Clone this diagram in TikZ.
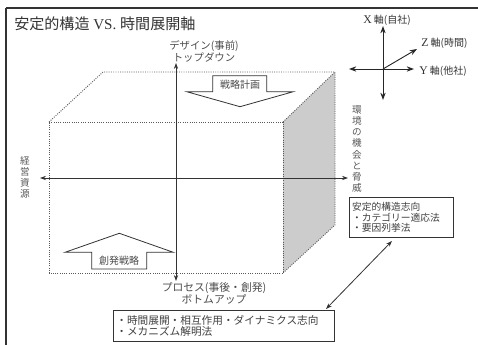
\documentclass[tikz,border=0pt]{standalone}
\usepackage{fontspec}
\setmainfont{Liberation Serif}
\newfontfamily\cjk{Noto Sans CJK JP}
\usetikzlibrary{arrows.meta}
\newcommand{\axletter}[1]{{\rmfamily\fontsize{8.8}{9}\selectfont #1}}
\begin{document}
\begin{tikzpicture}[x=0.75pt,y=-0.75pt,
  axisline/.style={line width=0.6pt, draw=black!80, {Stealth[length=4.5pt,width=3.2pt]}-{Stealth[length=4.5pt,width=3.2pt]}},
  legendline/.style={line width=0.7pt, draw=black!85, {Stealth[length=5.5pt,width=4pt]}-{Stealth[length=5.5pt,width=4pt]}},
  cubeedge/.style={densely dotted, line width=0.7pt, draw=black!65},
  bigarrow/.style={draw=black!80, line width=0.6pt, fill=white},
  lbl/.style={font=\cjk\fontsize{7.5}{8.8}\selectfont, text=black!70, inner sep=0pt, align=center},
  vlbl/.style={font=\cjk\fontsize{7.2}{8.2}\selectfont, text=black!65, inner sep=0pt, align=center},
  boxnode/.style={draw=black!80, line width=0.7pt, fill=white, align=left, anchor=north west, text=black!75},
]
\useasboundingbox (0,0) rectangle (478,345);
% frame
\draw[line width=1.1pt, black!80] (478,8) -- (6,8);
\draw[line width=1.5pt, black!80] (6,8) -- (6,345);
% title
\node[anchor=west, inner sep=0pt, text=black!80, font=\fontsize{11.3}{13}\selectfont] (title) at (14,24) {{\cjk 安定的構造} VS. {\cjk 時間展開軸}};
% cube
\coordinate (A) at (49,122);
\coordinate (B) at (283,122);
\coordinate (C) at (283,273);
\coordinate (D) at (49,273);
\coordinate (E) at (103,72);
\coordinate (F) at (335,72);
\coordinate (G) at (335,225);
\fill[black!20] (B) -- (F) -- (G) -- (C) -- cycle;
\draw[cubeedge] (A) -- (B) -- (C) -- (D) -- cycle;
\draw[cubeedge] (A) -- (E) -- (F) -- (G) -- (C);
\draw[cubeedge] (B) -- (F);
% big arrows
\draw[bigarrow] (212.7,75.7) -- (266.7,75.7) -- (266.7,91.7) -- (293.3,91.7) -- (240,106.7) -- (186.7,91.7) -- (212.7,91.7) -- cycle;
\node[lbl] (plan) at (240,85) {戦略計画};
\draw[bigarrow] (119.3,233.3) -- (173.3,252.3) -- (146.7,252.3) -- (146.7,269) -- (91.7,269) -- (91.7,252.3) -- (65,252.3) -- cycle;
\node[lbl] (emerg) at (119,261) {創発戦略};
% axes
\coordinate (vt) at (176,63);
\coordinate (vb) at (176,281);
\coordinate (hl) at (40,178);
\coordinate (hr) at (348,178);
\draw[axisline] (vt) -- (vb);
\draw[axisline] (hl) -- (hr);
\node[lbl, font=\cjk\fontsize{7.8}{9}\selectfont] (top) at (204,51) {デザイン(事前)\\トップダウン};
\node[lbl, font=\cjk\fontsize{8.1}{9}\selectfont] (bottom) at (214,293) {プロセス(事後・創発)\\ボトムアップ};
\node[vlbl] (left) at (25,177) {経\\営\\資\\源};
\node[vlbl, font=\cjk\fontsize{7.2}{8.3}\selectfont] (right) at (357,149) {環\\境\\の\\機\\会\\と\\脅\\威};
% legend axes
\coordinate (o) at (383,69);
\coordinate (xt) at (383,26);
\coordinate (xb) at (383,100);
\coordinate (yl) at (349,69);
\coordinate (yr) at (414,69);
\coordinate (zt) at (417,49);
\draw[legendline] (xt) -- (xb);
\draw[legendline] (yl) -- (yr);
\draw[line width=0.7pt, draw=black!85, -{Stealth[length=5.5pt,width=4pt]}] (o) -- (zt);
\node[lbl, text=black!80] (xl) at (387,20) {\axletter{X} 軸(自社)};
\node[lbl, text=black!80, anchor=west] (zl) at (421,43) {\axletter{Z} 軸(時間)};
\node[lbl, text=black!80, anchor=west] (yl2) at (419,71) {\axletter{Y} 軸(他社)};
% boxes
\node[boxnode, text width=74pt, minimum height=30pt, inner sep=2pt, font=\cjk\fontsize{7.3}{7.9}\selectfont] (b1) at (349,197) {安定的構造志向\\・カテゴリー適応法\\・要因列挙法};
\node[boxnode, text width=161pt, minimum height=23.25pt, inner sep=2.2pt, font=\cjk\fontsize{8}{7.6}\selectfont] (b2) at (113,310) {・時間展開・相互作用・ダイナミクス志向\\・メカニズム解明法};
\coordinate (e1) at (392,241);
\coordinate (e2) at (326,309);
\draw[line width=0.6pt, draw=black!80, {Stealth[length=4.5pt,width=3.2pt]}-{Stealth[length=4.5pt,width=3.2pt]}] (e1) -- (e2);
\end{tikzpicture}
\end{document}
